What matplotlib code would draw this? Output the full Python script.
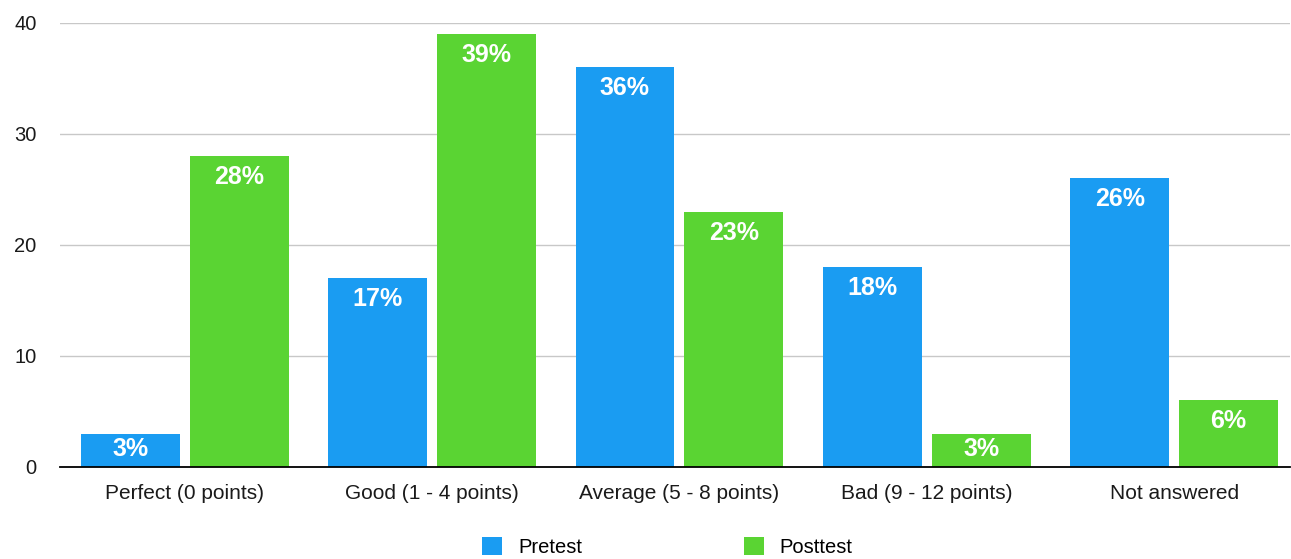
import matplotlib.pyplot as plt
import numpy as np

categories = ["Perfect (0 points)", "Good (1 - 4 points)", "Average (5 - 8 points)",
              "Bad (9 - 12 points)", "Not answered"]
pretest = [3, 17, 36, 18, 26]
posttest = [28, 39, 23, 3, 6]
series_names = ["Pretest", "Posttest"]

blue = "#1a9cf2"
green = "#5ad433"

plt.rcParams['font.family'] = ['Liberation Sans', 'DejaVu Sans']

fig = plt.figure(figsize=(12.91, 5.59), dpi=100)
ax = fig.add_axes([0.0465, 0.1646, 0.953, 0.7943])

x = np.arange(len(categories))
w = 0.4
b1 = ax.bar(x - 0.22, pretest, w, color=blue, label=series_names[0], zorder=3)
b2 = ax.bar(x + 0.22, posttest, w, color=green, label=series_names[1], zorder=3)

for bars, vals in [(b1, pretest), (b2, posttest)]:
    for rect, v in zip(bars, vals):
        off = -15 if v < 5 else -21
        ax.annotate(f"{v}%", (rect.get_x() + rect.get_width() / 2, v),
                    xytext=(0, off), textcoords="offset pixels",
                    ha="center", va="center", color="white", fontsize=18,
                    fontweight="bold", zorder=4)

ax.set_xlim(-0.504, 4.47)
ax.set_ylim(0, 40)
ax.set_yticks([0, 10, 20, 30, 40])
ax.set_xticks(x)
ax.set_xticklabels(categories, fontsize=15, color="#1a1a1a")
ax.tick_params(axis="y", labelsize=14.5, length=0, pad=17, labelcolor="#1a1a1a")
ax.tick_params(axis="x", length=0, pad=12)
ax.grid(axis="y", color="#c8c8c8", linewidth=1, zorder=0)
for s in ["top", "right", "left"]:
    ax.spines[s].set_visible(False)
ax.spines["bottom"].set_color("black")
ax.spines["bottom"].set_linewidth(1.3)
ax.spines["bottom"].set_zorder(5)

fig.legend(loc="center", bbox_to_anchor=(0.517, 0.021), ncol=2, frameon=False,
           fontsize=14.5, handlelength=1.0, handleheight=1.0, columnspacing=8.0,
           handletextpad=0.8)

fig.savefig("out.png", dpi=100)
